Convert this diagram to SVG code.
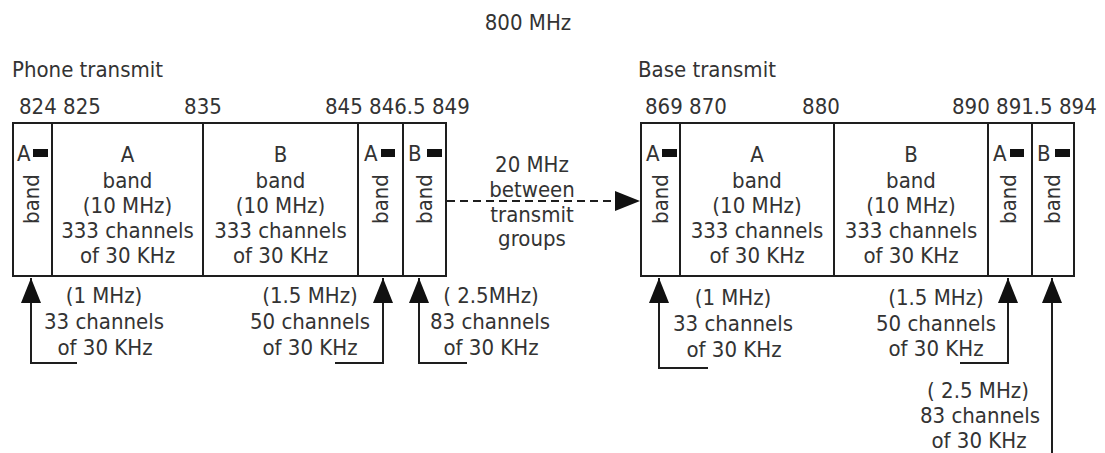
<svg xmlns="http://www.w3.org/2000/svg" width="1105" height="453" viewBox="0 0 1105 453">
<style>
text{font-family:"DejaVu Sans Condensed","DejaVu Sans","Noto Sans",sans-serif;font-stretch:condensed;font-size:22px;fill:#333}
.c{text-anchor:middle}
.box{fill:none;stroke:#1e1e1e;stroke-width:2}
.div{stroke:#1e1e1e;stroke-width:2}
.sq{fill:#111}
.ln{fill:none;stroke:#1e1e1e;stroke-width:2}
.dash{fill:none;stroke:#1e1e1e;stroke-width:2;stroke-dasharray:8 5}
</style>
<defs>
<marker id="ah" markerUnits="userSpaceOnUse" viewBox="0 0 25 20" markerWidth="25" markerHeight="20" refX="25" refY="10" orient="auto">
<path d="M0,0 L25,10 L0,20 z" fill="#111"/>
</marker>
</defs>
<rect width="1105" height="453" fill="#fff"/>

<g id="titles">
<text class="c" x="528" y="30">800 MHz</text>
<text x="12" y="77">Phone transmit</text>
<text x="638" y="77">Base transmit</text>
</g>

<g id="freq-left">
<text x="19" y="114">824 825</text>
<text class="c" x="203" y="114">835</text>
<text x="325" y="114">845 846.5 849</text>
</g>
<g id="freq-right">
<text x="645" y="114">869 870</text>
<text class="c" x="821" y="114">880</text>
<text x="952" y="114">890 891.5 894</text>
</g>

<g id="phone-group">
<rect class="box" x="13" y="123" width="433" height="153"/>
<line class="div" x1="52" y1="123" x2="52" y2="276"/>
<line class="div" x1="203" y1="123" x2="203" y2="276"/>
<line class="div" x1="358" y1="123" x2="358" y2="276"/>
<line class="div" x1="403" y1="123" x2="403" y2="276"/>
</g>

<g id="phone-a-minus">
<text x="17" y="161">A</text><rect class="sq" x="33" y="149" width="15" height="8"/>
<text class="c" transform="translate(39,199) rotate(-90)">band</text>
</g>
<g id="phone-a">
<text class="c" x="127.5" y="162">A</text>
<text class="c" x="127.5" y="188">band</text>
<text class="c" x="127.5" y="213">(10 MHz)</text>
<text class="c" x="127.5" y="238">333 channels</text>
<text class="c" x="127.5" y="263">of 30 KHz</text>
</g>
<g id="phone-b">
<text class="c" x="280.5" y="162">B</text>
<text class="c" x="280.5" y="188">band</text>
<text class="c" x="280.5" y="213">(10 MHz)</text>
<text class="c" x="280.5" y="238">333 channels</text>
<text class="c" x="280.5" y="263">of 30 KHz</text>
</g>
<g id="phone-a-prime">
<text x="364" y="161">A</text><rect class="sq" x="381" y="149" width="14" height="8"/>
<text class="c" transform="translate(388,199) rotate(-90)">band</text>
</g>
<g id="phone-b-prime">
<text x="408" y="161">B</text><rect class="sq" x="427" y="149" width="15" height="8"/>
<text class="c" transform="translate(432,199) rotate(-90)">band</text>
</g>

<g id="base-group">
<rect class="box" x="641" y="123" width="433" height="153"/>
<line class="div" x1="680" y1="123" x2="680" y2="276"/>
<line class="div" x1="834" y1="123" x2="834" y2="276"/>
<line class="div" x1="988" y1="123" x2="988" y2="276"/>
<line class="div" x1="1032" y1="123" x2="1032" y2="276"/>
</g>
<g id="base-a-minus">
<text x="646" y="161">A</text><rect class="sq" x="662" y="149" width="15" height="8"/>
<text class="c" transform="translate(668,199) rotate(-90)">band</text>
</g>
<g id="base-a">
<text class="c" x="757" y="162">A</text>
<text class="c" x="757" y="188">band</text>
<text class="c" x="757" y="213">(10 MHz)</text>
<text class="c" x="757" y="238">333 channels</text>
<text class="c" x="757" y="263">of 30 KHz</text>
</g>
<g id="base-b">
<text class="c" x="911" y="162">B</text>
<text class="c" x="911" y="188">band</text>
<text class="c" x="911" y="213">(10 MHz)</text>
<text class="c" x="911" y="238">333 channels</text>
<text class="c" x="911" y="263">of 30 KHz</text>
</g>
<g id="base-a-prime">
<text x="993" y="161">A</text><rect class="sq" x="1010" y="149" width="14" height="8"/>
<text class="c" transform="translate(1016,199) rotate(-90)">band</text>
</g>
<g id="base-b-prime">
<text x="1037" y="161">B</text><rect class="sq" x="1055" y="149" width="15" height="8"/>
<text class="c" transform="translate(1060,199) rotate(-90)">band</text>
</g>

<g id="gap-label">
<text class="c" x="532" y="172">20 MHz</text>
<text class="c" x="532" y="197">between</text>
<text class="c" x="532" y="222">transmit</text>
<text class="c" x="532" y="246">groups</text>
</g>

<g id="labels-bottom">
<text class="c" x="104" y="303">(1 MHz)</text>
<text class="c" x="104" y="329">33 channels</text>
<text class="c" x="105" y="355">of 30 KHz</text>
<text class="c" x="310" y="303">(1.5 MHz)</text>
<text class="c" x="310" y="329">50 channels</text>
<text class="c" x="310" y="355">of 30 KHz</text>
<text class="c" x="491" y="303">( 2.5MHz)</text>
<text class="c" x="490" y="329">83 channels</text>
<text class="c" x="491" y="355">of 30 KHz</text>
<text class="c" x="733" y="305">(1 MHz)</text>
<text class="c" x="733" y="331">33 channels</text>
<text class="c" x="734" y="357">of 30 KHz</text>
<text class="c" x="936" y="305">(1.5 MHz)</text>
<text class="c" x="936" y="331">50 channels</text>
<text class="c" x="936" y="356">of 30 KHz</text>
<text class="c" x="978" y="398">( 2.5 MHz)</text>
<text class="c" x="980" y="423">83 channels</text>
<text class="c" x="979" y="448">of 30 KHz</text>
</g>

<g id="connectors">
<path class="dash" d="M447,201 H640" marker-end="url(#ah)"/>
<path class="ln" d="M77,363 H31 V278" marker-end="url(#ah)"/>
<path class="ln" d="M335,363 H383 V278" marker-end="url(#ah)"/>
<path class="ln" d="M467,363 H419 V278" marker-end="url(#ah)"/>
<path class="ln" d="M708,368 H659 V278" marker-end="url(#ah)"/>
<path class="ln" d="M960,363 H1008 V278" marker-end="url(#ah)"/>
<path class="ln" d="M1052,453 V278" marker-end="url(#ah)"/>
</g>
</svg>
